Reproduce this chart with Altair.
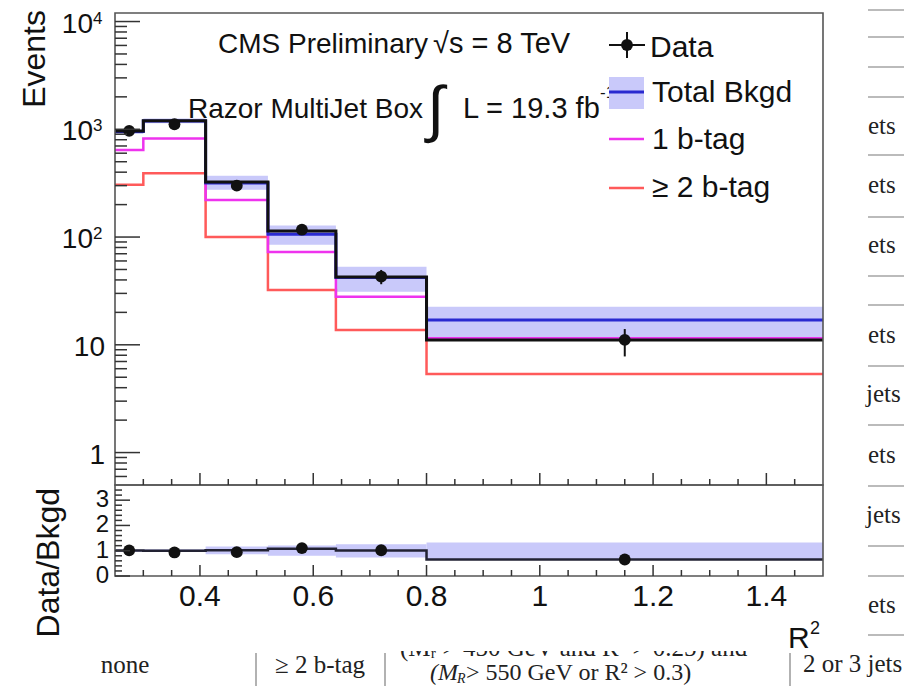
import altair as alt
import pandas as pd

# ---------------- values ----------------
bin_edges = [0.25, 0.30, 0.41, 0.52, 0.64, 0.80, 1.50]
data_events = [967, 1114, 300, 117, 43.0, 11.1]
data_err_dn = [31, 33, 17, 11, 6.5, 3.3]
data_err_up = [31, 33, 17, 11, 6.5, 2.9]
total_bkgd = [952, 1196, 318, 106, 42.2, 17.0]
bkgd_band_lo = [905, 1135, 275, 85, 31.0, 11.4]
bkgd_band_hi = [1000, 1260, 370, 128, 53.0, 22.6]
bkgd_fit = [962, 1200, 325, 114, 42.6, 11.1]
one_btag = [641, 820, 221, 72.7, 27.9, 11.5]
two_btag = [305, 390, 100, 32.2, 13.7, 5.36]

y_major = [1, 10, 100, 1000, 10000]
y_labels = ["1", "10", "10", "10", "10"]
y_exponents = ["", "", "2", "3", "4"]
x_major = [0.4, 0.6, 0.8, 1.0, 1.2, 1.4]
x_labels = ["0.4", "0.6", "0.8", "1", "1.2", "1.4"]
r_major = [0, 1, 2, 3]
r_labels = ["0", "1", "2", "3"]

table_right_lines = [10, 37, 67, 97, 155, 217, 276, 305, 366, 425, 486, 546, 576, 635]
table_right_text = ["ets", "ets", "ets", "ets", "jets", "ets", "jets", "ets"]
table_right_text_y = [126, 185, 245, 335, 394, 455, 515, 605]

# ---------------- layout ----------------
W, H_TOP, H = 708, 472, 563
OX, OY = 115, 13  # page position of plot origin
F = "Liberation Sans"
SERIF = "Liberation Serif"
BLUE, BLACK, MAG, RED, BAND = "#2a2ad0", "#111111", "#ee33ee", "#ff5a5a", "#c9c9fa"
FRAME = "#555555"

XS = alt.Scale(domain=[0.25, 1.5], range=[0, W], nice=False, zero=False)
YL = alt.Scale(type="log", domain=[0.5, 12000], range=[H_TOP, 0], nice=False)
YR = alt.Scale(domain=[0, 3.6], range=[H, H_TOP], nice=False, zero=False)

one = pd.DataFrame({"k": [0]})
lo = bin_edges[:-1]
hi = bin_edges[1:]
ctr = [(a + b) / 2 for a, b in zip(lo, hi)]


def step_df(vals):
    rows = []
    for i, v in enumerate(vals):
        rows.append({"x": lo[i], "y": v, "o": 2 * i})
        rows.append({"x": hi[i], "y": v, "o": 2 * i + 1})
    return pd.DataFrame(rows)


def step_line(vals, color, width, scale):
    return alt.Chart(step_df(vals)).mark_line(color=color, strokeWidth=width).encode(
        x=alt.X("x:Q", scale=XS, axis=None),
        y=alt.Y("y:Q", scale=scale, axis=None),
        order="o:Q",
    )


def txt(s, x, y, size, font=F, align="left", baseline="alphabetic", color="#111111", **kw):
    return alt.Chart(one).mark_text(
        text=s, font=font, fontSize=size, align=align, baseline=baseline, color=color, **kw
    ).encode(x=alt.value(x - OX), y=alt.value(y - OY))


def prule(x1, y1, x2, y2, color, width):
    return alt.Chart(one).mark_rule(color=color, strokeWidth=width).encode(
        x=alt.value(x1 - OX), x2=alt.value(x2 - OX), y=alt.value(y1 - OY), y2=alt.value(y2 - OY)
    )


layers = []

# ---------- top panel ----------
band = pd.DataFrame({"lo": lo, "hi": hi, "blo": bkgd_band_lo, "bhi": bkgd_band_hi})
layers.append(alt.Chart(band).mark_rect(color=BAND).encode(
    x=alt.X("lo:Q", scale=XS, axis=None), x2="hi:Q",
    y=alt.Y("blo:Q", scale=YL, axis=None), y2="bhi:Q"))
layers.append(step_line(two_btag, RED, 2.5, YL))
layers.append(step_line(one_btag, MAG, 2.5, YL))
layers.append(step_line(total_bkgd, BLUE, 3, YL))
layers.append(step_line(bkgd_fit, BLACK, 3, YL))

dpts = pd.DataFrame({
    "x": ctr, "y": data_events,
    "ylo": [v - e for v, e in zip(data_events, data_err_dn)],
    "yhi": [v + e for v, e in zip(data_events, data_err_up)],
})
layers.append(alt.Chart(dpts).mark_rule(color=BLACK, strokeWidth=2).encode(
    x=alt.X("x:Q", scale=XS, axis=None), y=alt.Y("ylo:Q", scale=YL, axis=None), y2="yhi:Q"))
layers.append(alt.Chart(dpts).mark_circle(color=BLACK, size=140, opacity=1).encode(
    x=alt.X("x:Q", scale=XS, axis=None), y=alt.Y("y:Q", scale=YL, axis=None)))

# ---------- ratio panel ----------
rband = pd.DataFrame({
    "lo": lo, "hi": hi,
    "rlo": [a / b for a, b in zip(bkgd_band_lo, total_bkgd)],
    "rhi": [a / b for a, b in zip(bkgd_band_hi, total_bkgd)],
})
layers.append(alt.Chart(rband).mark_rect(color=BAND).encode(
    x=alt.X("lo:Q", scale=XS, axis=None), x2="hi:Q",
    y=alt.Y("rlo:Q", scale=YR, axis=None), y2="rhi:Q"))
layers.append(step_line([a / b for a, b in zip(bkgd_fit, total_bkgd)], "#222233", 2.5, YR))
rpts = pd.DataFrame({
    "x": ctr,
    "r": [a / b for a, b in zip(data_events, total_bkgd)],
    "rlo": [(v - e) / b for v, e, b in zip(data_events, data_err_dn, total_bkgd)],
    "rhi": [(v + e) / b for v, e, b in zip(data_events, data_err_up, total_bkgd)],
})
layers.append(alt.Chart(rpts).mark_rule(color=BLACK, strokeWidth=2).encode(
    x=alt.X("x:Q", scale=XS, axis=None), y=alt.Y("rlo:Q", scale=YR, axis=None), y2="rhi:Q"))
layers.append(alt.Chart(rpts).mark_circle(color=BLACK, size=140, opacity=1).encode(
    x=alt.X("x:Q", scale=XS, axis=None), y=alt.Y("r:Q", scale=YR, axis=None)))

# ---------- frames ----------
for y1, y2 in [(0, H_TOP), (H_TOP, H)]:
    layers.append(alt.Chart(one).mark_rect(fillOpacity=0, stroke=FRAME, strokeWidth=1.6).encode(
        x=alt.value(0), x2=alt.value(W), y=alt.value(y1), y2=alt.value(y2)))

# ---------- ticks ----------
y_minor = [m * 10 ** e for e in range(-1, 4) for m in range(2, 10) if 0.5 < m * 10 ** e < 12000]
x_all = [round(0.25 + 0.05 * k, 2) for k in range(1, 25)]
x_minor = [v for v in x_all if v not in x_major]
r_minor = [round(0.2 * k, 1) for k in range(1, 18) if round(0.2 * k, 1) not in r_major]

def yticks(vals, scale, length):
    return alt.Chart(pd.DataFrame({"v": vals})).mark_rule(color="#333333", strokeWidth=1.5).encode(
        y=alt.Y("v:Q", scale=scale, axis=None), x=alt.value(0), x2=alt.value(length))

def xticks(vals, base, length):
    return alt.Chart(pd.DataFrame({"v": vals})).mark_rule(color="#333333", strokeWidth=1.5).encode(
        x=alt.X("v:Q", scale=XS, axis=None), y=alt.value(base), y2=alt.value(base - length))

layers += [
    yticks(y_major, YL, 25), yticks(y_minor, YL, 12),
    yticks(r_major, YR, 15), yticks(r_minor, YR, 7),
    xticks(x_major, H_TOP, 12), xticks(x_minor, H_TOP, 6),
    xticks(x_major, H, 11), xticks(x_minor, H, 6),
]

# ---------- tick labels ----------
ylab = pd.DataFrame({"v": y_major, "t": y_labels, "e": y_exponents})
ylab_plain = ylab[ylab["e"] == ""]
ylab_exp = ylab[ylab["e"] != ""]
layers.append(alt.Chart(ylab_plain).mark_text(font=F, fontSize=28, align="right", baseline="middle", dy=3, color="#111111").encode(
    y=alt.Y("v:Q", scale=YL, axis=None), x=alt.value(-10), text="t:N"))
layers.append(alt.Chart(ylab_exp).mark_text(font=F, fontSize=28, align="right", baseline="middle", dy=3, color="#111111").encode(
    y=alt.Y("v:Q", scale=YL, axis=None), x=alt.value(-22), text="t:N"))
layers.append(alt.Chart(ylab_exp).mark_text(font=F, fontSize=17, align="left", baseline="middle", dy=-3, color="#111111").encode(
    y=alt.Y("v:Q", scale=YL, axis=None), x=alt.value(-22), text="e:N"))

layers.append(alt.Chart(pd.DataFrame({"v": r_major, "t": r_labels})).mark_text(
    font=F, fontSize=24, align="right", baseline="middle", color="#111111").encode(
    y=alt.Y("v:Q", scale=YR, axis=None), x=alt.value(-6), text="t:N"))
layers.append(alt.Chart(pd.DataFrame({"v": x_major, "t": x_labels})).mark_text(
    font=F, fontSize=30, align="center", baseline="middle", color="#111111").encode(
    x=alt.X("v:Q", scale=XS, axis=None), y=alt.value(584), text="t:N"))

# ---------- axis titles ----------
layers.append(txt("Events", 45, 10, 32, align="right", angle=270))
layers.append(txt("Data/Bkgd", 59, 488, 32, align="right", angle=270))
layers.append(txt("R", 788, 648, 30))
layers.append(txt("2", 810, 634, 18))

# ---------- header texts ----------
layers.append(txt("CMS Preliminary", 218, 53, 28))
layers.append(txt("\u221As = 8 TeV", 433, 53, 29))
layers.append(txt("Razor MultiJet Box", 188, 118, 28))
layers.append(txt("\u222B", 427, 130, 62))
layers.append(txt("L = 19.3 fb", 463, 118, 29))
layers.append(txt("-1", 600, 98, 17))

# ---------- legend ----------
layers.append(alt.Chart(one).mark_rect(color=BAND).encode(
    x=alt.value(609 - OX), x2=alt.value(644 - OX), y=alt.value(77 - OY), y2=alt.value(109 - OY)))
layers.append(prule(609, 92, 644, 92, BLUE, 3))
layers.append(prule(609, 45, 645, 45, BLACK, 2))
layers.append(prule(627, 32, 627, 58, BLACK, 2))
layers.append(alt.Chart(one).mark_circle(color=BLACK, size=140, opacity=1).encode(
    x=alt.value(627 - OX), y=alt.value(45 - OY)))
layers.append(prule(609, 139, 644, 139, MAG, 2.5))
layers.append(prule(609, 188, 644, 188, RED, 2.5))
layers.append(txt("Data", 650, 57, 30))
layers.append(txt("Total Bkgd", 652, 102, 30))
layers.append(txt("1 b-tag", 652, 149, 30))
layers.append(txt("\u2265 2 b-tag", 652, 197, 30))

# ---------- surrounding table fragments ----------
for yv in table_right_lines:
    layers.append(prule(868, yv, 912, yv, "#bbbbbb", 2))
for s, yv in zip(table_right_text, table_right_text_y):
    layers.append(txt(s, 868 if s == "ets" else 866, yv, 25, font=SERIF, baseline="middle", color="#222222"))
layers.append(txt("(M\u1d63 > 450 GeV and R\u00b2 > 0.25) and", 400, 656, 25, font=SERIF, color="#222222"))
layers.append(alt.Chart(one).mark_rect(color="white").encode(
    x=alt.value(390 - OX), x2=alt.value(785 - OX), y=alt.value(625 - OY), y2=alt.value(651 - OY)))
for xv in [256, 385, 790]:
    layers.append(prule(xv, 653, xv, 694, "#999999", 1.5))
layers.append(txt("none", 125, 665, 25, font=SERIF, align="center", baseline="middle", color="#222222"))
layers.append(txt("\u2265 2 b-tag", 320, 665, 25, font=SERIF, align="center", baseline="middle", color="#222222"))
layers.append(txt("(M", 430, 680, 24, font=SERIF, color="#222222", fontStyle="italic"))
layers.append(txt("R", 457, 683, 14, font=SERIF, color="#222222", fontStyle="italic"))
layers.append(txt(" > 550 GeV or R\u00b2 > 0.3)", 466, 680, 24, font=SERIF, color="#222222"))
layers.append(txt("2 or 3 jets", 803, 664, 25, font=SERIF, baseline="middle", color="#222222"))

chart = alt.layer(*layers).resolve_scale(y="independent").properties(
    width=W,
    height=H,
    autosize=alt.AutoSizeParams(type="none"),
    padding={"left": 107, "top": 5, "right": 81, "bottom": 110},
).configure_view(strokeWidth=0)

chart.save("out.html", embed_options={"renderer": "svg", "actions": False})
